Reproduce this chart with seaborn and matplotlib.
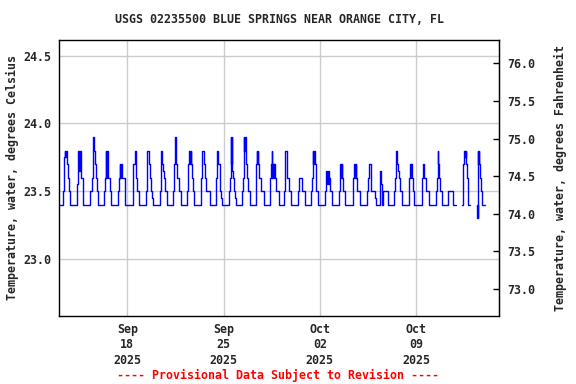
import numpy as np
import pandas as pd
import seaborn as sns
import matplotlib.pyplot as plt
import matplotlib.dates as mdates

title = "USGS 02235500 BLUE SPRINGS NEAR ORANGE CITY, FL"
note = "---- Provisional Data Subject to Revision ----"
first_day = "2025-09-13"
x_end = "2025-10-15 01:00"
tick_days = ["2025-09-18", "2025-09-25", "2025-10-02", "2025-10-09"]
c_ticks = [23.0, 23.5, 24.0, 24.5]
f_ticks = [73.0, 73.5, 74.0, 74.5, 75.0, 75.5, 76.0]

# (hour of day, water temperature degC) at each change of reading, None = no data
sep13 = [(0, 23.4), (7.3, 23.5), (9.6, 23.75), (11.3, 23.8), (12.0, 23.75), (12.6, 23.8), (13.3, 23.75),
         (13.8, 23.8), (14.8, 23.7), (16.6, 23.6), (17.7, 23.5), (19.5, 23.4)]
sep14 = [(7.7, 23.5), (8.8, 23.55), (10.0, 23.65), (10.5, 23.8), (11.0, 23.65), (11.6, 23.8), (12.2, 23.65),
         (12.8, 23.8), (13.4, 23.65), (14.0, 23.8), (14.6, 23.6), (18.1, 23.5), (19.3, 23.4)]
sep15 = [(7.6, 23.5), (9.9, 23.6), (11.6, 23.8), (12.8, 23.9), (13.4, 23.8), (16.3, 23.7), (18.0, 23.6),
         (19.8, 23.5), (21.5, 23.4)]
sep16 = [(7.9, 23.5), (9.6, 23.6), (10.8, 23.8), (11.4, 23.6), (12.0, 23.8), (12.6, 23.6), (13.2, 23.8),
         (13.8, 23.6), (14.4, 23.8), (14.9, 23.6), (17.2, 23.5), (19.5, 23.4)]
sep17 = [(8.3, 23.5), (10.0, 23.6), (11.2, 23.7), (11.8, 23.6), (12.4, 23.7), (13.0, 23.6), (13.6, 23.7),
         (14.1, 23.6), (19.3, 23.5), (20.5, 23.4)]
sep18 = [(9.3, 23.5), (10.5, 23.7), (14.0, 23.8), (14.5, 23.7), (15.7, 23.6), (17.4, 23.5), (20.9, 23.4)]
sep19 = [(8.6, 23.5), (10.3, 23.6), (10.9, 23.8), (13.8, 23.7), (16.2, 23.6), (17.9, 23.5), (19.1, 23.45),
         (20.8, 23.4)]
sep20 = [(9.0, 23.5), (10.7, 23.6), (11.3, 23.8), (11.9, 23.7), (12.5, 23.8), (13.1, 23.7), (13.7, 23.65),
         (16.6, 23.6), (17.7, 23.5), (20.6, 23.4)]
sep21 = [(8.3, 23.5), (10.0, 23.7), (11.7, 23.9), (12.3, 23.7), (15.2, 23.6), (18.1, 23.5), (21.0, 23.4)]
sep22 = [(8.7, 23.5), (10.5, 23.7), (12.2, 23.8), (12.8, 23.7), (13.4, 23.8), (14.0, 23.7), (14.5, 23.8),
         (15.1, 23.7), (16.3, 23.6), (18.6, 23.5), (20.9, 23.4)]
sep23 = [(8.0, 23.5), (8.6, 23.6), (10.9, 23.8), (14.0, 23.7), (16.1, 23.6), (17.9, 23.5), (23.6, 23.4)]
sep24 = [(10.6, 23.5), (11.2, 23.6), (11.8, 23.8), (12.4, 23.7), (13.0, 23.8), (13.6, 23.7), (14.2, 23.8),
         (14.8, 23.7), (17.0, 23.6), (18.2, 23.5), (19.9, 23.45), (21.7, 23.4)]
sep25 = [(9.9, 23.5), (11.0, 23.6), (12.2, 23.7), (12.8, 23.9), (13.4, 23.7), (14.0, 23.9), (14.5, 23.7),
         (15.1, 23.65), (16.3, 23.6), (17.4, 23.5), (19.2, 23.45), (21.5, 23.4)]
sep26 = [(8.6, 23.5), (9.8, 23.6), (10.9, 23.7), (11.5, 23.9), (12.1, 23.8), (12.7, 23.9), (13.3, 23.8),
         (13.9, 23.9), (14.4, 23.8), (15.0, 23.7), (16.2, 23.6), (17.9, 23.5), (21.4, 23.4)]
sep27 = [(8.4, 23.5), (9.5, 23.7), (10.1, 23.8), (10.7, 23.7), (11.3, 23.8), (11.9, 23.7), (12.4, 23.8),
         (13.0, 23.7), (14.2, 23.6), (17.7, 23.5), (22.3, 23.4)]
sep28 = [(8.3, 23.5), (9.5, 23.6), (10.6, 23.7), (11.8, 23.6), (12.4, 23.8), (13.0, 23.6), (13.6, 23.7),
         (14.2, 23.6), (14.8, 23.7), (15.4, 23.6), (16.4, 23.7), (18.2, 23.6), (19.9, 23.5)]
sep29 = [(1.1, 23.4), (8.7, 23.5), (10.4, 23.6), (11.0, 23.7), (11.6, 23.8), (13.9, 23.7), (15.6, 23.6),
         (17.4, 23.5), (22.0, 23.4)]
sep30 = [(9.8, 23.5), (10.9, 23.6), (16.7, 23.5), (21.4, 23.45), (22.5, 23.4)]
oct01 = [(8.9, 23.5), (10.1, 23.6), (11.3, 23.7), (11.9, 23.8), (12.5, 23.7), (13.1, 23.8), (13.7, 23.7),
         (14.2, 23.8), (14.8, 23.7), (17.1, 23.6), (18.2, 23.5), (21.7, 23.4)]
oct02 = [(8.9, 23.5), (10.0, 23.55), (11.2, 23.65), (11.8, 23.55), (12.4, 23.65), (13.0, 23.55), (13.6, 23.65),
         (14.2, 23.55), (14.8, 23.65), (15.4, 23.55), (15.9, 23.6), (17.6, 23.5), (21.1, 23.4)]
oct03 = [(9.8, 23.5), (11.0, 23.6), (11.6, 23.7), (12.2, 23.6), (12.8, 23.7), (13.4, 23.6), (14.0, 23.7),
         (14.5, 23.6), (16.8, 23.5), (20.3, 23.4)]
oct04 = [(10.2, 23.5), (10.7, 23.6), (12.0, 23.7), (12.6, 23.6), (13.2, 23.7), (13.8, 23.6), (14.4, 23.7),
         (15.0, 23.6), (17.7, 23.5), (22.0, 23.4)]
oct05 = [(10.1, 23.5), (11.9, 23.6), (13.0, 23.7), (16.5, 23.6), (17.7, 23.5), (23.5, 23.45)]
oct06 = [(1.7, 23.4), (9.9, 23.65), (11.0, 23.55), (12.2, 23.4), (14.5, 23.5), (22.7, 23.4)]
oct07 = [(9.8, 23.5), (11.6, 23.6), (12.1, 23.7), (13.3, 23.8), (13.9, 23.7), (16.2, 23.65), (17.4, 23.6),
         (19.7, 23.5), (23.2, 23.4)]
oct08 = [(11.3, 23.5), (12.5, 23.6), (13.7, 23.7), (14.3, 23.6), (14.9, 23.7), (15.5, 23.6), (16.0, 23.7),
         (16.6, 23.65), (17.1, 23.6), (19.5, 23.5), (20.6, 23.4)]
oct09 = [(9.9, 23.5), (11.1, 23.6), (12.3, 23.7), (13.4, 23.65), (14.6, 23.6), (16.9, 23.5), (22.7, 23.4)]
oct10 = [(10.4, 23.5), (12.2, 23.6), (13.4, 23.8), (14.0, 23.7), (14.6, 23.8), (15.1, 23.7), (16.3, 23.6),
         (18.0, 23.5), (20.9, 23.4)]
oct11 = [(8.5, 23.5), (16.6, 23.4), (22.4, None)]
oct12 = [(8.8, 23.4), (9.9, 23.7), (12.3, 23.8), (13.0, 23.75), (13.6, 23.8), (14.2, 23.75), (14.8, 23.8),
         (15.8, 23.7), (17.0, 23.6), (18.1, 23.5), (19.3, 23.4), (22.8, None)]
oct13 = [(10.5, 23.3), (11.0, 23.4), (11.5, 23.3), (12.2, 23.8), (12.8, 23.7), (13.4, 23.8), (13.9, 23.7),
         (15.7, 23.6), (17.4, 23.5), (19.8, 23.4), (23.8, 23.4)]

days = [sep13, sep14, sep15, sep16, sep17, sep18, sep19, sep20, sep21, sep22, sep23, sep24, sep25,
        sep26, sep27, sep28, sep29, sep30, oct01, oct02, oct03, oct04, oct05, oct06, oct07, oct08,
        oct09, oct10, oct11, oct12, oct13]

rows = []
seg = 0
for i, day in enumerate(days):
    d0 = pd.Timestamp(first_day) + pd.Timedelta(days=i)
    for h, v in day:
        t = d0 + pd.Timedelta(hours=h)
        if v is None:
            # close the current piece and start a new one after the gap
            rows.append((t, rows[-1][1], seg))
            seg += 1
        else:
            rows.append((t, v, seg))
df = pd.DataFrame(rows, columns=["time", "temp", "seg"])

sns.set_style("white")
plt.rcParams["font.family"] = ["DejaVu Sans Mono"]
plt.rcParams["font.weight"] = "bold"
fs = 8.4

fig = plt.figure(figsize=(5.76, 3.84), dpi=100)
ax = fig.add_axes([0.1016, 0.178, 0.765, 0.719])

sns.lineplot(data=df, x="time", y="temp", units="seg", estimator=None, sort=False,
             drawstyle="steps-post", color="#0000ff", lw=1, ax=ax)

ax.set_xlim(pd.Timestamp(first_day), pd.Timestamp(x_end))
ax.set_ylim(22.58, 24.62)
ax.set_xticks(pd.to_datetime(tick_days))
ax.xaxis.set_major_formatter(mdates.DateFormatter("%b\n%d\n%Y"))
ax.set_yticks(c_ticks)
ax.set_yticklabels([f"{v:.1f}" for v in c_ticks])
ax.grid(True, color="#cccccc", lw=1)
ax.set_axisbelow(True)
for s in ax.spines.values():
    s.set_color("black")
    s.set_linewidth(1)
ax.tick_params(axis="x", length=0, pad=5, labelsize=fs)
ax.tick_params(axis="y", length=0, pad=5.5, labelsize=fs)
for lab in ax.get_xticklabels():
    lab.set_linespacing(1.25)
ax.set_xlabel("")
ax.set_ylabel("Temperature, water, degrees Celsius", fontsize=fs, fontweight="bold", labelpad=3)

sec = ax.secondary_yaxis("right", functions=(lambda c: c * 1.8 + 32, lambda f: (f - 32) / 1.8))
sec.set_yticks(f_ticks)
sec.set_yticklabels([f"{v:.1f}" for v in f_ticks])
sec.tick_params(direction="in", length=4, width=1, color="black", pad=5.5, labelsize=fs)
sec.set_ylabel("Temperature, water, degrees Fahrenheit", fontsize=fs, fontweight="bold", labelpad=14)

fig.text(0.4844, 0.95, title, ha="center", va="center", fontsize=fs, fontweight="bold")
fig.text(0.4818, 0.021, note, ha="center", va="center", fontsize=fs, fontweight="bold", color="red")

fig.savefig("out.png", dpi=100)
